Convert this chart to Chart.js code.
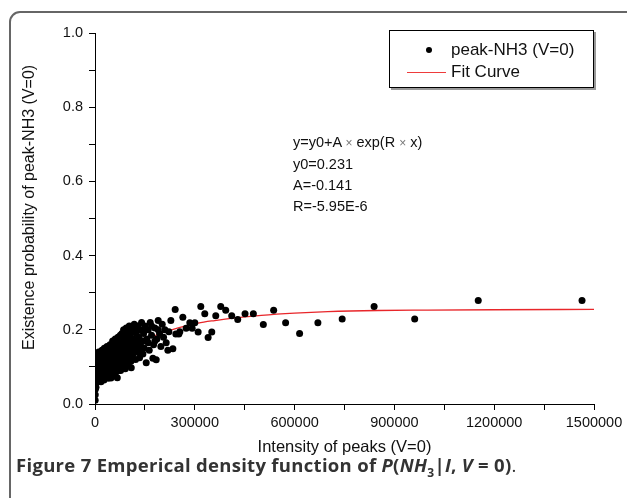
<!DOCTYPE html>
<html>
<head>
<meta charset="utf-8">
<script src="https://cdn.jsdelivr.net/npm/chart.js@4.4.0/dist/chart.umd.min.js"></script>
<style>
    body { margin: 0; background: #fff; width: 627px; height: 498px; overflow: hidden; position: relative; font-family: "Liberation Sans", Arial, sans-serif; }
    #frame { position: absolute; left: 9px; top: 11px; width: 640px; height: 520px; border: 2px solid #666; border-radius: 11px; }
    #chart { position: absolute; left: 0; top: 0; }
    #legend { position: absolute; left: 389px; top: 30px; width: 203px; height: 56px; border: 1px solid #000; box-shadow: 2px 2px 0 #999; background: #fff; font-size: 17px; color: #111; }
    #legend .row { position: absolute; left: 0; width: 200px; height: 20px; line-height: 20px; }
    #legend .dot { position: absolute; left: 36px; top: 7px; width: 6px; height: 6px; border-radius: 50%; background: #000; }
    #legend .line { position: absolute; left: 17px; top: 10px; width: 39px; height: 0; border-top: 1px solid #ee3b3b; }
    #legend .txt { position: absolute; left: 61px; top: 0; white-space: nowrap; }
    #fit { position: absolute; left: 293px; top: 132px; font-size: 14.5px; line-height: 21px; color: #111; }
    #fit .x { color: #777; font-size: 12px; }
    #caption { position: absolute; left: 16px; top: 452px; font-family: "Open Sans", sans-serif; font-weight: 700; font-size: 18.5px; letter-spacing: 0.3px; color: #333; white-space: nowrap; }
    #caption i { font-style: italic; }
    #caption .end { font-weight: 400; }
</style>
</head>
<body>
<div id="frame"></div>
<canvas id="chart" width="627" height="498"></canvas>
<div id="legend">
    <div class="row" style="top:9px"><div class="dot"></div><div class="txt">peak-NH3 (V=0)</div></div>
    <div class="row" style="top:31px"><div class="line"></div><div class="txt">Fit Curve</div></div>
</div>
<div id="fit">
    y=y0+A <span class="x">×</span> exp(R <span class="x">×</span> x)<br>
    y0=0.231<br>
    A=-0.141<br>
    R=-5.95E-6
</div>
<div id="caption">Figure 7 Emperical density function of <i>P</i>(<i>NH</i><sub style="font-size:12px">3</sub>|<i>I</i>, <i>V</i> = 0)<span class="end">.</span></div>
<script>
// axis ticks
const xMajorTicks = [0, 300000, 600000, 900000, 1200000, 1500000];
const xTickLabels = ['0', '300000', '600000', '900000', '1200000', '1500000'];
const yMajorTicks = [0, 0.2, 0.4, 0.6, 0.8, 1.0];
const yTickLabels = ['0.0', '0.2', '0.4', '0.6', '0.8', '1.0'];

const peakX = [
    500, 800, 1000, 1500, 1200, 2000, 2500, 3000, 1800, 3500, 2200, 4000, 5000, 4500, 6000, 7000, 8000, 9000, 10000, 11000,
    12000, 13000, 14000, 15000, 16000, 17000, 18000, 19000, 20000,
    21000, 22000, 23000, 24000, 25000, 26000, 27000, 28000, 29000, 30000, 31000, 32000, 33000, 34000, 35000, 36000, 37000,
    38000, 39000, 40000, 41000, 42000, 43000, 44000, 45000, 46000, 47000, 48000, 49000, 50000,
    52000, 53000, 54000, 55000, 56000, 57000, 58000, 59000, 60000, 61000, 62000, 63000, 64000, 65000, 66000, 67000, 68000,
    69000, 70000, 71000, 72000, 73000, 74000, 75000, 76000, 77000, 78000, 79000, 80000,
    81000, 82000, 83000, 84000, 85000, 86000, 87000, 88000, 89000, 90000, 91000, 92000, 93000, 94000, 95000, 96000, 97000,
    98000, 99000, 100000, 101000, 102000, 103000, 104000, 105000, 106000, 107000, 108000, 109000, 110000,
    112000, 114000, 116000, 118000, 120000, 122000, 124000, 126000, 128000, 130000, 132000, 134000, 136000, 138000, 140000,
    142000, 144000, 146000, 148000, 150000,
    154000, 156000, 160000, 163000, 166000, 170000, 174000, 176000, 180000, 184000, 186000, 190000, 194000, 198000, 202000,
    206000, 210000, 214000, 219000, 222000, 228000, 234000,
    3000, 6000, 9000, 12000, 15000, 18000, 21000, 24000, 27000, 30000, 33000, 36000, 39000, 42000, 45000, 48000, 51000,
    54000, 57000, 60000, 63000, 66000, 69000, 72000, 75000, 78000, 81000, 84000, 87000, 90000, 93000, 96000, 99000, 102000,
    105000, 108000, 111000, 114000, 117000, 120000, 125000, 130000, 135000, 140000, 145000, 150000, 160000, 170000, 180000, 190000,
    241000, 264000, 255000, 252000, 243000, 274000, 292000, 285000, 300000, 310000, 318000, 330000, 340000, 351000, 363000,
    378000, 393000, 411000, 429000, 451000, 476000, 506000, 537000, 573000, 615000, 670000, 743000, 839000, 961000, 1152000, 1464000
];
const peakY = [
    0.01, 0.025, 0.04, 0.055, 0.07, 0.08, 0.095, 0.105, 0.115, 0.125, 0.135, 0.09, 0.11, 0.07, 0.13, 0.1, 0.06, 0.12, 0.085, 0.14,
    0.07, 0.105, 0.125, 0.09, 0.065, 0.115, 0.135, 0.08, 0.1,
    0.145, 0.075, 0.12, 0.09, 0.135, 0.105, 0.065, 0.15, 0.085, 0.115, 0.13, 0.095, 0.075, 0.14, 0.11, 0.155, 0.085,
    0.125, 0.1, 0.145, 0.07, 0.12, 0.135, 0.09, 0.16, 0.105, 0.08, 0.13, 0.115, 0.15,
    0.095, 0.17, 0.125, 0.08, 0.14, 0.11, 0.16, 0.1, 0.13, 0.175, 0.085, 0.15, 0.12, 0.165, 0.105, 0.071, 0.14,
    0.18, 0.095, 0.155, 0.125, 0.17, 0.11, 0.145, 0.185, 0.09, 0.135, 0.16, 0.12,
    0.19, 0.1, 0.15, 0.175, 0.13, 0.2, 0.11, 0.16, 0.14, 0.185, 0.095, 0.17, 0.125, 0.205, 0.15, 0.115, 0.18,
    0.135, 0.195, 0.105, 0.165, 0.145, 0.21, 0.125, 0.175, 0.155, 0.19, 0.115, 0.098, 0.16,
    0.205, 0.135, 0.175, 0.215, 0.15, 0.12, 0.19, 0.165, 0.21, 0.14, 0.18, 0.125, 0.2, 0.155, 0.22,
    0.17, 0.135, 0.19, 0.15, 0.21,
    0.111, 0.175, 0.2, 0.145, 0.22, 0.185, 0.123, 0.16, 0.205, 0.119, 0.175, 0.225, 0.19, 0.155, 0.215,
    0.18, 0.2, 0.165, 0.145, 0.195, 0.225, 0.149,
    0.045, 0.075, 0.095, 0.115, 0.13, 0.06, 0.1, 0.125, 0.14, 0.08, 0.105, 0.13, 0.07, 0.15, 0.095, 0.07, 0.12,
    0.15, 0.09, 0.16, 0.1, 0.14, 0.115, 0.09, 0.165, 0.11, 0.145, 0.105, 0.185, 0.12, 0.15, 0.19, 0.125, 0.18,
    0.14, 0.2, 0.12, 0.165, 0.145, 0.195, 0.14, 0.2, 0.16, 0.145, 0.2, 0.17, 0.165, 0.21, 0.17, 0.2,
    0.255, 0.234, 0.195, 0.189, 0.189, 0.204, 0.204, 0.219, 0.219, 0.194, 0.263, 0.243, 0.179, 0.194, 0.238,
    0.263, 0.253, 0.238, 0.228, 0.243, 0.243, 0.214, 0.253, 0.219, 0.19, 0.219, 0.229, 0.263, 0.229, 0.279, 0.279
];

// fitted curve
const fitX = [0, 60000, 130000, 190000, 250000, 310000, 360000, 420000, 500000, 600000, 700000, 850000, 1000000, 1200000, 1500000];
const fitY = [0.09, 0.133, 0.165, 0.188, 0.205, 0.218, 0.225, 0.232, 0.239, 0.245, 0.249, 0.252, 0.253, 0.254, 0.255];

function pointsOf(xs, ys) {
    return xs.map((x, i) => ({ x: x, y: ys[i] }));
}

function tickLabel(majors, labels) {
    return function (value) {
        const i = majors.findIndex(m => Math.abs(m - value) < 1e-6 * Math.max(1, Math.abs(m)));
        return i >= 0 ? labels[i] : '';
    };
}

const axisFont = { family: '"Liberation Sans", Arial, sans-serif', size: 14.5 };
const titleFont = { family: '"Liberation Sans", Arial, sans-serif', size: 16.5 };

new Chart(document.getElementById('chart'), {
    type: 'scatter',
    data: {
        datasets: [{
            label: 'peak-NH3 (V=0)',
            data: pointsOf(peakX, peakY),
            backgroundColor: '#000',
            borderWidth: 0,
            pointRadius: 3.5
        }, {
            label: 'Fit Curve',
            data: pointsOf(fitX, fitY),
            showLine: true,
            borderColor: '#e8262a',
            borderWidth: 1.3,
            pointRadius: 0,
            cubicInterpolationMode: 'monotone'
        }]
    },
    options: {
        responsive: false,
        animation: false,
        layout: { padding: { left: 0, top: 33, right: 33, bottom: 0 } },
        plugins: { legend: { display: false }, tooltip: { enabled: false } },
        scales: {
            x: {
                type: 'linear',
                min: 0,
                max: 1500000,
                afterFit: scale => { scale.height = 94; },
                border: { color: '#000', width: 1 },
                grid: { drawOnChartArea: false, tickLength: 6, tickColor: '#000' },
                ticks: { stepSize: 150000, autoSkip: false, maxRotation: 0, padding: 4, color: '#111', font: axisFont,
                         callback: tickLabel(xMajorTicks, xTickLabels) },
                title: { display: true, text: 'Intensity of peaks (V=0)', color: '#111', font: titleFont,
                         padding: { top: 0, bottom: 41 } }
            },
            y: {
                type: 'linear',
                min: 0,
                max: 1.0,
                afterFit: scale => { scale.width = 95; },
                border: { color: '#000', width: 1 },
                grid: { drawOnChartArea: false, tickLength: 6, tickColor: '#000' },
                ticks: { stepSize: 0.1, autoSkip: false, padding: 6, color: '#111', font: axisFont,
                         callback: tickLabel(yMajorTicks, yTickLabels) },
                title: { display: true, text: '     Existence probability of peak-NH3 (V=0)', color: '#111', font: { family: titleFont.family, size: 16 },
                         padding: { top: 20, bottom: 0 } }
            }
        }
    }
});
</script>
</body>
</html>
